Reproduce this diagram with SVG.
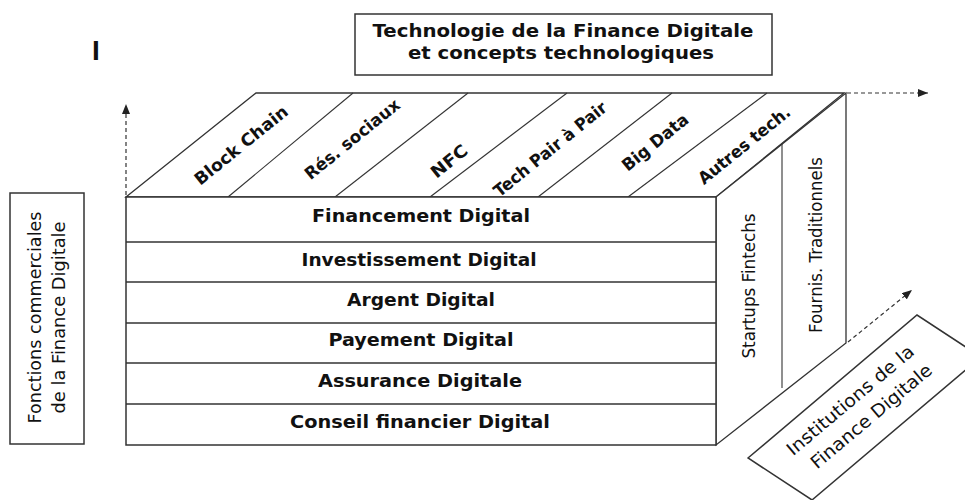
<svg xmlns="http://www.w3.org/2000/svg" width="965" height="500" viewBox="0 0 965 500">
<defs>
<marker id="ah" markerUnits="userSpaceOnUse" markerWidth="10" markerHeight="8" refX="10" refY="4" orient="auto">
<path d="M0,0 L10,4 L0,8 z" fill="#222" stroke="none"/>
</marker>
<style>
.box{fill:#fff;stroke:#333;stroke-width:1.5}
.face{fill:#fff;stroke:#333;stroke-width:1.3}
.thin{fill:none;stroke:#333;stroke-width:1.1}
.row{fill:none;stroke:#333;stroke-width:1.6}
.dash{fill:none;stroke:#333;stroke-width:1.2;stroke-dasharray:4 3}
.b{font-family:"DejaVu Sans",sans-serif;font-weight:bold;fill:#111}
.r{font-family:"DejaVu Sans",sans-serif;fill:#111}
</style>
</defs>
<rect width="965" height="500" fill="#fff"/>

<text x="96" y="60" font-family="Liberation Sans, sans-serif" font-weight="bold" font-size="28" fill="#111" text-anchor="middle">I</text>

<g id="title">
<rect class="box" x="355" y="14" width="417" height="61"/>
<text class="b" font-size="17" x="563" y="37" text-anchor="middle" textLength="381" lengthAdjust="spacingAndGlyphs">Technologie de la Finance Digitale</text>
<text class="b" font-size="17" x="561" y="59" text-anchor="middle" textLength="306" lengthAdjust="spacingAndGlyphs">et concepts technologiques</text>
</g>

<g id="fonctions">
<rect class="box" x="10" y="193" width="74" height="251"/>
<text class="r" font-size="18" transform="translate(41,317.5) rotate(-90)" text-anchor="middle" textLength="212" lengthAdjust="spacingAndGlyphs">Fonctions commerciales</text>
<text class="r" font-size="18" transform="translate(65,317.5) rotate(-90)" text-anchor="middle" textLength="192" lengthAdjust="spacingAndGlyphs">de la Finance Digitale</text>
</g>

<g id="top-face">
<polygon class="face" points="126,197 256,93 844,93 716,197"/>
<line class="thin" x1="228" y1="197" x2="353" y2="93"/>
<line class="thin" x1="335" y1="197" x2="468" y2="93"/>
<line class="thin" x1="430" y1="197" x2="567" y2="93"/>
<line class="thin" x1="538" y1="197" x2="672" y2="93"/>
<line class="thin" x1="628" y1="197" x2="767" y2="93"/>
<text class="b" font-size="17" transform="translate(241,145) rotate(-39)" text-anchor="middle" dy="0.36em" textLength="115" lengthAdjust="spacingAndGlyphs">Block Chain</text>
<text class="b" font-size="17" transform="translate(352,139) rotate(-39)" text-anchor="middle" dy="0.36em" textLength="117" lengthAdjust="spacingAndGlyphs">Rés. sociaux</text>
<text class="b" font-size="17" transform="translate(449,161) rotate(-39)" text-anchor="middle" dy="0.36em" textLength="42" lengthAdjust="spacingAndGlyphs">NFC</text>
<text class="b" font-size="17" transform="translate(550,149) rotate(-39)" text-anchor="middle" dy="0.36em" textLength="140" lengthAdjust="spacingAndGlyphs">Tech Pair à Pair</text>
<text class="b" font-size="17" transform="translate(655,142) rotate(-39)" text-anchor="middle" dy="0.36em" textLength="80" lengthAdjust="spacingAndGlyphs">Big Data</text>
<text class="b" font-size="17" transform="translate(744,145) rotate(-39)" text-anchor="middle" dy="0.36em" textLength="113" lengthAdjust="spacingAndGlyphs">Autres tech.</text>
</g>

<g id="right-face">
<polygon class="face" points="716,197 846,93 846,343 716,445"/>
<line class="thin" x1="782" y1="144" x2="782" y2="388"/>
<text class="r" font-size="17" transform="translate(755,286) rotate(-90)" text-anchor="middle" textLength="145" lengthAdjust="spacingAndGlyphs">Startups Fintechs</text>
<text class="r" font-size="17" transform="translate(822,245) rotate(-90)" text-anchor="middle" textLength="176" lengthAdjust="spacingAndGlyphs">Fournis. Traditionnels</text>
</g>

<g id="front-face">
<rect class="box" x="126" y="197" width="590" height="248" stroke-width="2"/>
<line class="row" x1="126" y1="242" x2="716" y2="242"/>
<line class="row" x1="126" y1="282" x2="716" y2="282"/>
<line class="row" x1="126" y1="323" x2="716" y2="323"/>
<line class="row" x1="126" y1="363" x2="716" y2="363"/>
<line class="row" x1="126" y1="404" x2="716" y2="404"/>
<text class="b" font-size="17" x="421" y="221.5" text-anchor="middle" textLength="218" lengthAdjust="spacingAndGlyphs">Financement Digital</text>
<text class="b" font-size="17" x="419" y="265.5" text-anchor="middle" textLength="235" lengthAdjust="spacingAndGlyphs">Investissement Digital</text>
<text class="b" font-size="17" x="421" y="306" text-anchor="middle" textLength="148" lengthAdjust="spacingAndGlyphs">Argent Digital</text>
<text class="b" font-size="17" x="421" y="345.5" text-anchor="middle" textLength="185" lengthAdjust="spacingAndGlyphs">Payement Digital</text>
<text class="b" font-size="17" x="420" y="387" text-anchor="middle" textLength="204" lengthAdjust="spacingAndGlyphs">Assurance Digitale</text>
<text class="b" font-size="17" x="420" y="428" text-anchor="middle" textLength="260" lengthAdjust="spacingAndGlyphs">Conseil financier Digital</text>
</g>

<g id="institutions">
<polygon class="box" points="748,458 917,315 981,357 812,500"/>
<text class="r" font-size="18" transform="translate(850,400) rotate(-40)" text-anchor="middle" dy="0.36em" textLength="160" lengthAdjust="spacingAndGlyphs">Institutions de la</text>
<text class="r" font-size="18" transform="translate(871,416) rotate(-40)" text-anchor="middle" dy="0.36em" textLength="152" lengthAdjust="spacingAndGlyphs">Finance Digitale</text>
</g>

<g id="connectors">
<line class="dash" x1="126" y1="195" x2="126" y2="104" marker-end="url(#ah)"/>
<line class="dash" x1="847" y1="93" x2="928" y2="93" marker-end="url(#ah)"/>
<line class="dash" x1="848" y1="342" x2="912" y2="290" marker-end="url(#ah)"/>
</g>
</svg>
